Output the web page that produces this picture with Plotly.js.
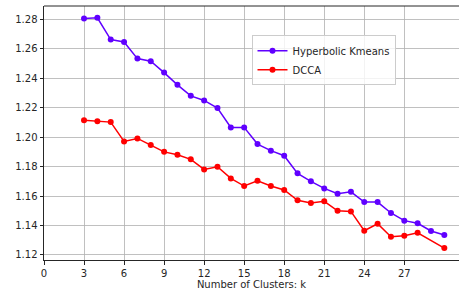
<!DOCTYPE html>
<html><head><meta charset="utf-8">
<script src="https://cdn.plot.ly/plotly-3.0.1.min.js"></script>
<style>html,body{margin:0;padding:0;background:#fff;}#chart{width:459px;height:293px;}</style>
</head><body><div id="chart"></div>
<script>
const kHyper = [3,4,5,6,7,8,9,10,11,12,13,14,15,16,17,18,19,20,21,22,23,24,25,26,27,28,29,30];
const hyperbolic = [1.2805,1.2810,1.2662,1.2646,1.2533,1.2515,1.2438,1.2355,1.2280,1.2249,1.2197,1.2066,1.2066,1.1953,1.1908,1.1874,1.1754,1.1700,1.1652,1.1616,1.1629,1.1559,1.1559,1.1485,1.1433,1.1415,1.1363,1.1336];
const kDcca = [3,4,5,6,7,8,9,10,11,12,13,14,15,16,17,18,19,20,21,22,23,24,25,26,27,28,30];
const dcca = [1.2115,1.2108,1.2102,1.1971,1.1991,1.1946,1.1900,1.1880,1.1849,1.1781,1.1799,1.1720,1.1668,1.1704,1.1668,1.1641,1.1571,1.1553,1.1564,1.1500,1.1496,1.1365,1.1412,1.1324,1.1331,1.1351,1.1247];
const xTicks = [0,3,6,9,12,15,18,21,24,27];
const yTicks = [1.12,1.14,1.16,1.18,1.20,1.22,1.24,1.26,1.28];
const xLabel = "Number of Clusters: k";

const font = {family: "DejaVu Sans", size: 10, color: "#262626"};
const traces = [
  {x: kHyper, y: hyperbolic, name: "Hyperbolic Kmeans", mode: "lines+markers",
   line: {color: "#6000ff", width: 1.5}, marker: {color: "#6000ff", size: 6}},
  {x: kDcca, y: dcca, name: "DCCA", mode: "lines+markers",
   line: {color: "#ff0000", width: 1.5}, marker: {color: "#ff0000", size: 6}}
];
const layout = {
  width: 459, height: 293,
  margin: {l: 44, r: 0, t: 6, b: 33, pad: 0},
  paper_bgcolor: "#fff", plot_bgcolor: "#fff",
  font: font,
  showlegend: true,
  legend: {x: 0.500, y: 0.885, xanchor: "left", yanchor: "top",
    bgcolor: "rgba(255,255,255,0.8)", bordercolor: "#cccccc", borderwidth: 1,
    font: {family: "DejaVu Sans", size: 10, color: "#262626"}, tracegroupgap: 0},
  xaxis: {range: [0, 31.1], tickvals: xTicks, ticktext: xTicks.map(String),
    showgrid: true, gridcolor: "#b0b0b0", gridwidth: 0.8, zeroline: false,
    showline: true, linecolor: "#262626", linewidth: 1, mirror: false,
    ticks: "outside", ticklen: 3.5, tickcolor: "#262626",
    title: {text: xLabel, font: font, standoff: 2}},
  yaxis: {range: [1.1166, 1.2890], tickvals: yTicks, ticktext: yTicks.map(v => v.toFixed(2)),
    showgrid: true, gridcolor: "#b0b0b0", gridwidth: 0.8, zeroline: false,
    showline: true, linecolor: "#262626", linewidth: 1,
    ticks: "outside", ticklen: 3.5, tickcolor: "#262626"},
  shapes: [{type: "line", xref: "paper", yref: "paper", x0: 0, x1: 1, y0: 1, y1: 1,
    line: {color: "#262626", width: 1}}]
};
Plotly.newPlot("chart", traces, layout, {staticPlot: true, displayModeBar: false});
</script></body></html>
